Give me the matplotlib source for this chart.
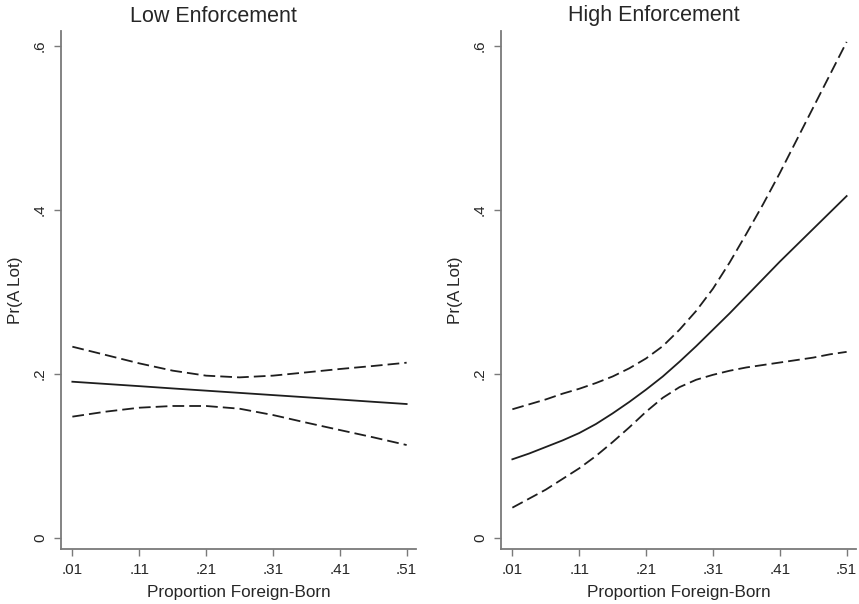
import matplotlib
matplotlib.use("Agg")
import matplotlib.pyplot as plt

plt.rcParams['font.family'] = ['Liberation Sans', 'DejaVu Sans']

# Low enforcement panel: proportion foreign-born vs Pr(A Lot) with 95% bounds
low_x = [0.01, 0.06, 0.11, 0.16, 0.21, 0.26, 0.31, 0.36, 0.41, 0.46, 0.51]
low_est = [0.1906, 0.1879, 0.1852, 0.1824, 0.1797, 0.1770, 0.1743, 0.1716, 0.1689, 0.1661, 0.1634]
low_upper = [0.2333, 0.2232, 0.2130, 0.2041, 0.1980, 0.1959, 0.1980, 0.2020, 0.2061, 0.2098, 0.2138]
low_lower = [0.1480, 0.1541, 0.1589, 0.1610, 0.1610, 0.1577, 0.1500, 0.1407, 0.1317, 0.1228, 0.1134]

# High enforcement panel
high_x = [0.01, 0.035, 0.06, 0.085, 0.11, 0.135, 0.16, 0.185, 0.21, 0.235, 0.26,
          0.285, 0.31, 0.335, 0.36, 0.385, 0.41, 0.435, 0.46, 0.485, 0.51]
high_est = [0.096, 0.103, 0.111, 0.119, 0.128, 0.139, 0.152, 0.166, 0.181, 0.197, 0.215,
            0.234, 0.254, 0.274, 0.295, 0.316, 0.337, 0.357, 0.377, 0.397, 0.417]
high_upper = [0.157, 0.163, 0.169, 0.176, 0.182, 0.189, 0.197, 0.207, 0.219, 0.234, 0.254,
              0.277, 0.304, 0.336, 0.371, 0.407, 0.445, 0.485, 0.525, 0.565, 0.605]
high_lower = [0.037, 0.048, 0.059, 0.072, 0.085, 0.100, 0.117, 0.135, 0.154, 0.171, 0.184,
              0.193, 0.199, 0.204, 0.208, 0.211, 0.214, 0.217, 0.220, 0.224, 0.227]

xticks = [0.01, 0.11, 0.21, 0.31, 0.41, 0.51]
xtick_labels = ['.01', '.11', '.21', '.31', '.41', '.51']
yticks = [0, 0.2, 0.4, 0.6]
ytick_labels = ['0', '.2', '.4', '.6']

panels = [
    ('Low Enforcement', low_x, low_est, low_upper, low_lower, [61, 416], 213),
    ('High Enforcement', high_x, high_est, high_upper, high_lower, [501, 856], 654),
]

W, H = 859, 604
fig = plt.figure(figsize=(W / 100, H / 100), dpi=100)
fig.patch.set_facecolor('white')

line_col = '#1e1e1e'
spine_col = '#7a7a7a'
text_col = '#262626'
dash = (0, (6.5, 2.8))

for title, x, est, upper, lower, (px0, px1), title_x in panels:
    ax = fig.add_axes([px0 / W, (H - 549) / H, (px1 - px0) / W, (549 - 31) / H])
    ax.plot(x, est, color=line_col, lw=1.3)
    ax.plot(x, upper, color=line_col, lw=1.3, linestyle=dash)
    ax.plot(x, lower, color=line_col, lw=1.3, linestyle=dash)

    ax.set_xlim(-0.007, 0.524)
    ax.set_ylim(-0.0134, 0.6183)
    ax.set_xticks(xticks)
    ax.set_xticklabels(xtick_labels)
    ax.set_yticks(yticks)
    ax.set_yticklabels(ytick_labels, rotation=90, va='center')

    for s in ['top', 'right']:
        ax.spines[s].set_visible(False)
    for s in ['left', 'bottom']:
        ax.spines[s].set_color(spine_col)
        ax.spines[s].set_linewidth(1.3)
    ax.tick_params(axis='both', direction='out', length=5, width=1.0,
                   color=spine_col, labelsize=11, labelcolor=text_col, pad=5)

    ax.set_xlabel('Proportion Foreign-Born', fontsize=12.3, color=text_col, labelpad=6)
    ax.set_ylabel('Pr(A Lot)', fontsize=12.3, color=text_col, labelpad=7)

    fig.text(title_x / W, 1 - 16 / H, title, ha='center', va='center',
             fontsize=15.5, color=text_col)

fig.savefig('out.png', dpi=100, facecolor='white')
